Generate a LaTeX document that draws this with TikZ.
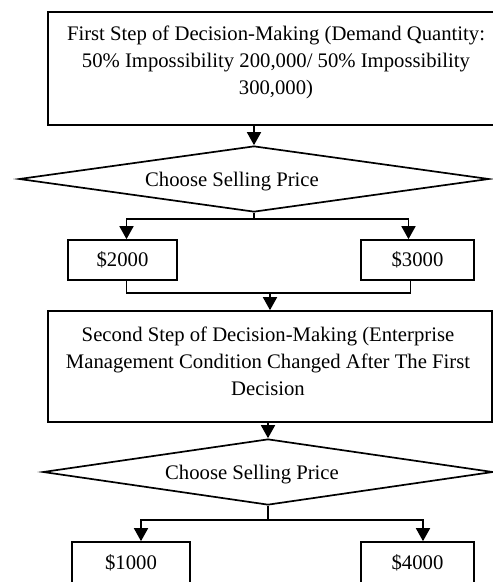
\documentclass[tikz,border=0pt]{standalone}
\usepackage{fontspec}
\setmainfont{Liberation Serif}
\usetikzlibrary{positioning}
\usetikzlibrary{arrows.meta}
\usetikzlibrary{shapes.geometric}

\begin{document}
\begin{tikzpicture}[x=1pt, y=-1pt, line width=1.7pt,
    font=\fontsize{20.7}{27}\selectfont,
    >={Triangle[length=13pt, width=14pt]},
    stepbox/.style={draw, rectangle, inner sep=0pt},
    steptext/.style={align=center, inner sep=0pt},
    choice/.style={draw, diamond, inner sep=0pt, minimum height=66pt},
    pricebox/.style={draw, rectangle, inner sep=0pt, minimum height=40pt}]
    \clip (0,0) rectangle (493,582);
    \useasboundingbox (0,0) rectangle (493,582);

    % first step
    \node[stepbox, minimum width=456pt, minimum height=113pt] (step1) at (276,68.5) {};
    \node[steptext, below=14pt of step1.north] (step1txt)
        {First Step of Decision-Making (Demand Quantity:\\
         50\% Impossibility 200,000/ 50\% Impossibility\\
         300,000)};

    \node[choice, minimum width=470pt] (sel1) at (254,179) {};
    \node (sel1txt) at (232,182) {Choose Selling Price};

    \node[pricebox, minimum width=109pt] (p2000) at (122.5,260) {\$2000};
    \node[pricebox, minimum width=113pt] (p3000) at (417.5,260) {\$3000};

    % second step
    \node[stepbox, minimum width=444pt, minimum height=111pt] (step2) at (270,366.5) {};
    \node[steptext, below=16pt of step2.north, xshift=-2pt] (step2txt)
        {Second Step of Decision-Making (Enterprise\\
         Management Condition Changed After The First\\
         Decision};

    \node[choice, minimum width=450pt] (sel2) at (268,472) {};
    \node (sel2txt) at (252,475) {Choose Selling Price};

    \node[pricebox, minimum width=118pt, minimum height=42pt] (p1000) at (131,563) {\$1000};
    \node[pricebox, minimum width=113pt, minimum height=42pt] (p4000) at (417.5,563) {\$4000};

    % connectors
    \draw[->] (sel1.north |- step1.south) -- (sel1.north);
    \draw (sel1.south) -- ++(0,6) coordinate (fork1);
    \draw[->] (fork1) -| ([xshift=4pt]p2000.north);
    \draw[->] (fork1) -| ([xshift=-9pt]p3000.north);

    \draw ([xshift=4pt]p2000.south) -- ++(0,12) coordinate (join1)
        -| ([xshift=-7pt]p3000.south);
    \draw[->] (step2.north |- join1) -- (step2.north);

    \draw[->] (sel2.north |- step2.south) -- (sel2.north);
    \draw (sel2.south) -- ++(0,14) coordinate (fork2);
    \draw[->] (fork2) -| ([xshift=10pt]p1000.north);
    \draw[->] (fork2) -| ([xshift=5.5pt]p4000.north);
\end{tikzpicture}
\end{document}
